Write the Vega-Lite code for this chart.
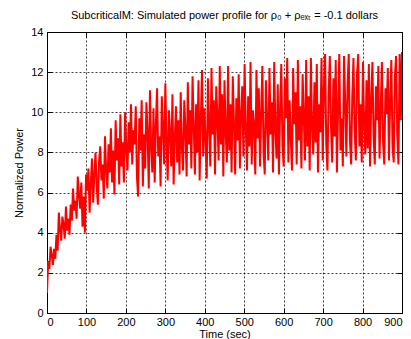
{
  "$schema": "https://vega.github.io/schema/vega-lite/v6.json",
  "width": 355,
  "height": 281,
  "autosize": {"type": "none"},
  "padding": {"left": 47, "top": 32, "right": 9, "bottom": 26},
  "background": "white",
  "title": {"text": "SubcriticalM: Simulated power profile for ρ₀ + ρₑₓₜ = -0.1 dollars", "font": "Liberation Sans", "fontSize": 11, "fontWeight": "normal", "color": "#000", "offset": 5},
  "config": {
    "view": {"stroke": "#000", "strokeWidth": 1},
    "axis": {"labelFont": "Liberation Sans", "labelFontSize": 11, "labelColor": "#000", "titleFont": "Liberation Sans", "titleFontSize": 11, "titleFontWeight": "normal", "titleColor": "#000", "domainColor": "#000", "tickColor": "#000", "gridColor": "#000", "gridOpacity": 0.75, "gridDash": [2, 2], "zindex": 1}
  },
  "data": {"values": [
    {"t":0,"p":1.0},{"t":3,"p":2.6},{"t":6,"p":2.2},{"t":9,"p":3.3},{"t":12,"p":2.9},{"t":15,"p":2.4},{"t":18,"p":3.2},{"t":21,"p":2.7},{"t":24,"p":3.9},{"t":27,"p":3.1},
    {"t":30,"p":5.0},{"t":33,"p":4.2},{"t":36,"p":3.6},{"t":39,"p":4.8},{"t":42,"p":4.4},{"t":45,"p":3.7},{"t":48,"p":5.3},{"t":51,"p":4.1},{"t":54,"p":4.7},{"t":57,"p":3.9},
    {"t":60,"p":5.4},{"t":63,"p":4.6},{"t":66,"p":6.2},{"t":69,"p":5.1},{"t":72,"p":5.6},{"t":75,"p":4.7},{"t":78,"p":6.8},{"t":81,"p":5.9},{"t":84,"p":5.2},{"t":87,"p":6.5},
    {"t":90,"p":4.3},{"t":93,"p":5.8},{"t":96,"p":4.0},{"t":99,"p":6.9},{"t":102,"p":6.1},{"t":105,"p":7.2},{"t":108,"p":5.0},{"t":111,"p":6.4},{"t":114,"p":7.7},{"t":117,"p":5.5},
    {"t":120,"p":6.9},{"t":123,"p":8.0},{"t":126,"p":6.3},{"t":129,"p":5.4},{"t":132,"p":7.6},{"t":135,"p":8.3},{"t":138,"p":6.6},{"t":141,"p":7.4},{"t":144,"p":5.7},{"t":147,"p":8.8},
    {"t":150,"p":7.1},{"t":153,"p":6.2},{"t":156,"p":8.4},{"t":159,"p":7.0},{"t":162,"p":9.2},{"t":165,"p":6.5},{"t":168,"p":8.1},{"t":171,"p":5.9},{"t":174,"p":9.6},{"t":177,"p":7.6},
    {"t":180,"p":8.7},{"t":183,"p":6.4},{"t":186,"p":9.9},{"t":189,"p":7.3},{"t":192,"p":8.5},{"t":195,"p":6.5},{"t":198,"p":10.0},{"t":201,"p":8.2},{"t":204,"p":7.1},{"t":207,"p":9.5},
    {"t":210,"p":8.0},{"t":213,"p":10.4},{"t":216,"p":7.4},{"t":219,"p":9.1},{"t":222,"p":8.4},{"t":225,"p":10.3},{"t":228,"p":6.8},{"t":231,"p":5.8},{"t":234,"p":9.7},{"t":237,"p":8.1},
    {"t":240,"p":10.6},{"t":243,"p":6.3},{"t":246,"p":8.9},{"t":249,"p":7.2},{"t":252,"p":10.5},{"t":255,"p":9.0},{"t":258,"p":6.2},{"t":261,"p":11.1},{"t":264,"p":8.3},{"t":267,"p":7.0},
    {"t":270,"p":10.2},{"t":273,"p":6.5},{"t":276,"p":9.4},{"t":279,"p":11.2},{"t":282,"p":7.8},{"t":285,"p":8.8},{"t":288,"p":6.3},{"t":291,"p":10.8},{"t":294,"p":9.2},{"t":297,"p":7.4},
    {"t":300,"p":11.45},{"t":303,"p":8.5},{"t":306,"p":6.6},{"t":309,"p":10.1},{"t":312,"p":9.0},{"t":315,"p":7.3},{"t":318,"p":10.9},{"t":321,"p":6.4},{"t":324,"p":8.7},{"t":327,"p":10.3},
    {"t":330,"p":7.5},{"t":333,"p":9.6},{"t":336,"p":6.9},{"t":339,"p":11.0},{"t":342,"p":8.2},{"t":345,"p":7.1},{"t":348,"p":10.6},{"t":351,"p":9.1},{"t":354,"p":6.8},{"t":357,"p":11.5},
    {"t":360,"p":8.4},{"t":363,"p":10.1},{"t":366,"p":7.2},{"t":369,"p":11.8},{"t":372,"p":9.3},{"t":375,"p":6.9},{"t":378,"p":10.4},{"t":381,"p":8.0},{"t":384,"p":11.6},{"t":387,"p":6.6},
    {"t":390,"p":9.7},{"t":393,"p":12.1},{"t":396,"p":7.8},{"t":399,"p":10.2},{"t":402,"p":8.6},{"t":405,"p":6.7},{"t":408,"p":11.7},{"t":411,"p":9.4},{"t":414,"p":7.3},{"t":417,"p":12.2},
    {"t":420,"p":8.9},{"t":423,"p":10.6},{"t":426,"p":6.9},{"t":429,"p":11.3},{"t":432,"p":9.8},{"t":435,"p":7.6},{"t":438,"p":12.3},{"t":441,"p":8.4},{"t":444,"p":10.9},{"t":447,"p":6.8},
    {"t":450,"p":11.6},{"t":453,"p":9.0},{"t":456,"p":7.5},{"t":459,"p":12.3},{"t":462,"p":8.1},{"t":465,"p":10.4},{"t":468,"p":7.0},{"t":471,"p":11.8},{"t":474,"p":9.5},{"t":477,"p":6.9},
    {"t":480,"p":10.7},{"t":483,"p":8.6},{"t":486,"p":11.9},{"t":489,"p":7.2},{"t":492,"p":9.9},{"t":495,"p":11.3},{"t":498,"p":7.8},{"t":501,"p":12.4},{"t":504,"p":9.2},{"t":507,"p":7.1},
    {"t":510,"p":10.8},{"t":513,"p":8.3},{"t":516,"p":12.5},{"t":519,"p":7.4},{"t":522,"p":10.1},{"t":525,"p":9.4},{"t":528,"p":6.9},{"t":531,"p":12.1},{"t":534,"p":8.7},{"t":537,"p":11.2},
    {"t":540,"p":7.3},{"t":543,"p":10.0},{"t":546,"p":12.3},{"t":549,"p":8.0},{"t":552,"p":6.9},{"t":555,"p":11.6},{"t":558,"p":9.6},{"t":561,"p":7.6},{"t":564,"p":12.2},{"t":567,"p":8.9},
    {"t":570,"p":10.5},{"t":573,"p":7.0},{"t":576,"p":12.5},{"t":579,"p":9.1},{"t":582,"p":7.7},{"t":585,"p":11.4},{"t":588,"p":6.9},{"t":591,"p":10.2},{"t":594,"p":12.4},{"t":597,"p":8.4},
    {"t":600,"p":7.3},{"t":603,"p":11.7},{"t":606,"p":9.7},{"t":609,"p":12.7},{"t":612,"p":7.5},{"t":615,"p":10.6},{"t":618,"p":8.8},{"t":621,"p":7.1},{"t":624,"p":12.2},{"t":627,"p":9.4},
    {"t":630,"p":11.0},{"t":633,"p":7.4},{"t":636,"p":12.6},{"t":639,"p":8.6},{"t":642,"p":10.3},{"t":645,"p":7.2},{"t":648,"p":11.9},{"t":651,"p":9.8},{"t":654,"p":7.6},{"t":657,"p":12.6},
    {"t":660,"p":8.3},{"t":663,"p":10.8},{"t":666,"p":7.1},{"t":669,"p":12.7},{"t":672,"p":9.2},{"t":675,"p":7.9},{"t":678,"p":11.5},{"t":681,"p":8.5},{"t":684,"p":12.4},{"t":687,"p":7.0},
    {"t":690,"p":10.4},{"t":693,"p":9.0},{"t":696,"p":12.7},{"t":699,"p":7.6},{"t":702,"p":11.2},{"t":705,"p":12.9},{"t":708,"p":8.4},{"t":711,"p":7.1},{"t":714,"p":10.9},{"t":717,"p":12.8},
    {"t":720,"p":9.3},{"t":723,"p":7.5},{"t":726,"p":11.7},{"t":729,"p":8.8},{"t":732,"p":12.6},{"t":735,"p":7.0},{"t":738,"p":10.2},{"t":741,"p":12.9},{"t":744,"p":8.1},{"t":747,"p":9.7},
    {"t":750,"p":7.3},{"t":753,"p":12.8},{"t":756,"p":10.5},{"t":759,"p":7.8},{"t":762,"p":11.4},{"t":765,"p":12.9},{"t":768,"p":8.6},{"t":771,"p":7.4},{"t":774,"p":10.8},{"t":777,"p":12.7},
    {"t":780,"p":9.1},{"t":783,"p":7.6},{"t":786,"p":11.9},{"t":789,"p":12.9},{"t":792,"p":8.3},{"t":795,"p":10.4},{"t":798,"p":7.5},{"t":801,"p":12.5},{"t":804,"p":9.4},{"t":807,"p":7.9},
    {"t":810,"p":11.6},{"t":813,"p":8.2},{"t":816,"p":12.4},{"t":819,"p":7.3},{"t":822,"p":10.7},{"t":825,"p":12.5},{"t":828,"p":8.8},{"t":831,"p":7.4},{"t":834,"p":11.3},{"t":837,"p":9.6},
    {"t":840,"p":12.3},{"t":843,"p":7.7},{"t":846,"p":10.1},{"t":849,"p":12.5},{"t":852,"p":8.5},{"t":855,"p":7.4},{"t":858,"p":11.2},{"t":861,"p":9.9},{"t":864,"p":12.2},{"t":867,"p":7.6},
    {"t":870,"p":10.6},{"t":873,"p":12.6},{"t":876,"p":8.3},{"t":879,"p":7.5},{"t":882,"p":11.8},{"t":885,"p":12.8},{"t":888,"p":8.9},{"t":891,"p":7.4},{"t":894,"p":12.9},{"t":897,"p":9.6},
    {"t":900,"p":13.0}
  ]},
  "layer": [
    {
      "mark": {"type": "line", "color": "#ff0000", "strokeWidth": 2, "clip": true},
      "encoding": {
        "x": {"field": "t", "type": "quantitative", "scale": {"domain": [0, 900], "nice": false},
          "axis": {"orient": "bottom", "values": [0,100,200,300,400,500,600,700,800,900], "title": "Time (sec)", "titlePadding": 1, "tickSize": -5, "labelPadding": 8, "grid": true}},
        "y": {"field": "p", "type": "quantitative", "scale": {"domain": [0, 14], "nice": false},
          "axis": {"orient": "left", "values": [0,2,4,6,8,10,12,14], "title": "Normalized Power", "titlePadding": 6, "tickSize": -5, "labelPadding": 9, "grid": true}}
      }
    },
    {
      "mark": {"type": "line", "strokeOpacity": 0},
      "encoding": {
        "x": {"field": "t", "type": "quantitative",
          "axis": {"orient": "top", "values": [0,100,200,300,400,500,600,700,800,900], "title": null, "labels": false, "tickSize": -5, "grid": false}},
        "y": {"field": "p", "type": "quantitative",
          "axis": {"orient": "right", "values": [0,2,4,6,8,10,12,14], "title": null, "labels": false, "tickSize": -5, "grid": false}}
      }
    }
  ],
  "resolve": {"axis": {"x": "independent", "y": "independent"}}
}
